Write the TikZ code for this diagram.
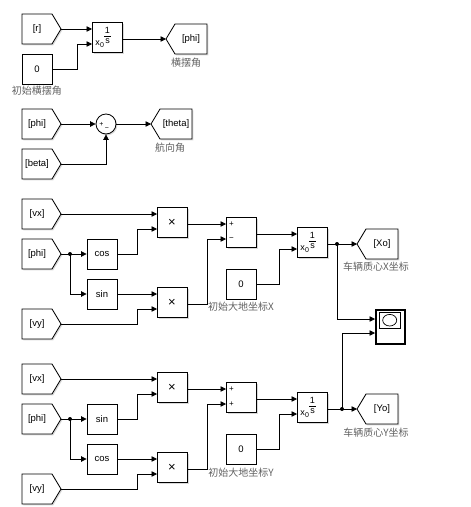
\documentclass[tikz,border=0pt]{standalone}
\usepackage{fontspec}
\setmainfont{Liberation Sans}
\newfontfamily\cjk{Noto Sans CJK SC}
\usetikzlibrary{arrows.meta,shadows,calc}
\begin{document}
\begin{tikzpicture}[x=1pt,y=-1pt,
  blk/.style={draw=black, line width=0.85pt, fill=white, drop shadow={shadow xshift=1.3pt, shadow yshift=-1.3pt, opacity=0.3}},
  sig/.style={line width=0.8pt, -{Triangle[length=5.5pt,width=5.5pt]}},
  btxt/.style={font=\fontsize{9.5}{10}\selectfont, inner sep=0},
  mtxt/.style={font=\fontsize{13}{13}\selectfont, inner sep=0},
  small/.style={font=\fontsize{9}{9}\selectfont, inner sep=0},
  sgn/.style={font=\fontsize{8}{8}\selectfont, inner sep=0},
  tiny/.style={font=\fontsize{7}{7}\selectfont, inner sep=0},
  lbl/.style={font=\cjk\fontsize{10}{10}\selectfont, text=black!62, inner sep=0},
  jdot/.style={circle, fill=black, inner sep=0, minimum size=4pt},
  rblk/.style={blk, minimum width=30pt, minimum height=30pt, inner sep=0, btxt},
  fromblk/.pic={\draw[blk] (-39,-15) -- (-9,-15) -- (0,0) -- (-9,15) -- (-39,15) -- cycle;
     \node[btxt] (-t) at (-24,0) {#1}; \coordinate (-out) at (0,0);},
  gotoblk/.pic={\draw[blk] (0,0) -- (9,-15) -- (41,-15) -- (41,15) -- (9,15) -- cycle;
     \node[btxt] (-t) at (25,0) {#1}; \coordinate (-in) at (0,0);},
  twoin/.pic={\node[rblk, anchor=north west] (-b) at (0,0) {};
     \node[mtxt] (-t) at (15,15.5) {#1};
     \coordinate (-in1) at (0,7); \coordinate (-in2) at (0,22); \coordinate (-out) at (30,17);},
  sumblk/.pic={\node[rblk, anchor=north west] (-b) at (0,0) {};
     \coordinate (-in1) at (0,7); \coordinate (-in2) at (0,22); \coordinate (-out) at (30,17);
     \node[sgn] (-s1) at (5.5,7) {+}; \node[sgn] (-s2) at (5.5,22) {#1};},
  integ/.pic={\node[rblk, anchor=north west] (-b) at (0,0) {};
     \coordinate (-in1) at (0,7); \coordinate (-in2) at (0,22); \coordinate (-out) at (30,17);
     \node[small] (-n) at (15.5,8.5) {1};
     \draw[line width=0.6pt] (12,14.5) -- (19,14.5);
     \node[small] (-d) at (15.5,19.5) {s};
     \node[small] (-x) at (5.5,21) {x};
     \node[tiny] (-z) at (10,23.5) {0};},
]
\useasboundingbox (0,0) rectangle (471,507);

% ---------- section 1 ----------
\pic (r) at (61,29) {fromblk={[r]}};
\node[rblk] (c1) at (37,69) {0};
\pic (i1) at (92,22) {integ};
\pic (gphi) at (166,39) {gotoblk={[phi]}};
\node[lbl] (l1) at (37,91) {初始横摆角};
\node[lbl] (l2) at (186,63) {横摆角};
\draw[sig] (r-out) -- (i1-in1);
\draw[sig] (c1.east) -- ++(25,0) |- (i1-in2);
\draw[sig] (i1-out) -- (gphi-in);

% ---------- section 2 ----------
\pic (phi2) at (61,124) {fromblk={[phi]}};
\pic (beta) at (61,164) {fromblk={[beta]}};
\node[blk, circle, minimum size=20pt, inner sep=0] (sum) at (106,124) {};
\node[tiny] (sp) at (101.5,124) {+};
\node[tiny] (sm) at (107,129) {−};
\pic (gth) at (151,124) {gotoblk={[theta]}};
\node[lbl] (l3) at (170,148) {航向角};
\draw[sig] (phi2-out) -- (sum.west);
\draw[sig] (beta-out) -| (sum.south);
\draw[sig] (sum.east) -- (gth-in);

% ---------- section X ----------
\pic (vxX) at (61,214) {fromblk={[vx]}};
\pic (phiX) at (61,254) {fromblk={[phi]}};
\pic (vyX) at (61,324) {fromblk={[vy]}};
\node[rblk] (cosX) at (102,254) {cos};
\node[rblk] (sinX) at (102,294) {sin};
\pic (mX1) at (157,207) {twoin={×}};
\pic (mX2) at (157,287) {twoin={×}};
\pic (sX) at (226,217) {sumblk={−}};
\node[rblk] (cX) at (241,284) {0};
\pic (iX) at (297,227) {integ};
\pic (gXo) at (357,244) {gotoblk={[Xo]}};
\node[lbl] (l4) at (241,307) {初始大地坐标X};
\node[lbl] (l5) at (376,267) {车辆质心X坐标};
\node[jdot] (dX) at (70,254) {};
\node[jdot] (jX) at (337,244) {};

\draw[sig] (vxX-out) -- (mX1-in1);
\draw[sig] (phiX-out) -- (cosX.west);
\draw[sig] (dX.center) |- (sinX.west);
\draw[sig] (cosX.east) -- ++(20,0) |- (mX1-in2);
\draw[sig] (sinX.east) -- (mX2-in1);
\draw[sig] (vyX-out) -- ++(76,0) |- (mX2-in2);
\draw[sig] (mX1-out) -- (sX-in1);
\draw[sig] (mX2-out) -- ++(20,0) |- (sX-in2);
\draw[sig] (sX-out) -- (iX-in1);
\draw[sig] (cX.east) -- ++(23,0) |- (iX-in2);
\draw[sig] (iX-out) -- (gXo-in);

% ---------- scope ----------
\node[draw, line width=1.8pt, fill=white, minimum width=29pt, minimum height=34pt, inner sep=0,
      anchor=north west, drop shadow={shadow xshift=1.3pt, shadow yshift=-1.3pt, opacity=0.3}] (scope) at (375,309) {};
\draw[line width=0.8pt] (379,312) rectangle (400.5,328.5);
\draw[line width=0.7pt] (389.7,320.2) ellipse [x radius=7, y radius=5.8];
\coordinate (sc1) at ($(scope.north west)+(0,10)$);
\coordinate (sc2) at ($(scope.north west)+(0,24)$);
\draw[sig] (jX.center) |- (sc1);

% ---------- section Y ----------
\pic (vxY) at (61,379) {fromblk={[vx]}};
\pic (phiY) at (61,419) {fromblk={[phi]}};
\pic (vyY) at (61,489) {fromblk={[vy]}};
\node[rblk] (sinY) at (102,419) {sin};
\node[rblk] (cosY) at (102,459) {cos};
\pic (mY1) at (157,372) {twoin={×}};
\pic (mY2) at (157,452) {twoin={×}};
\pic (sY) at (226,382) {sumblk={+}};
\node[rblk] (cY) at (241,449) {0};
\pic (iY) at (297,392) {integ};
\pic (gYo) at (357,409) {gotoblk={[Yo]}};
\node[lbl] (l6) at (241,473) {初始大地坐标Y};
\node[lbl] (l7) at (376,433) {车辆质心Y坐标};
\node[jdot] (dY) at (70,419) {};
\node[jdot] (jY) at (342,409) {};

\draw[sig] (vxY-out) -- (mY1-in1);
\draw[sig] (phiY-out) -- (sinY.west);
\draw[sig] (dY.center) |- (cosY.west);
\draw[sig] (sinY.east) -- ++(20,0) |- (mY1-in2);
\draw[sig] (cosY.east) -- (mY2-in1);
\draw[sig] (vyY-out) -- ++(76,0) |- (mY2-in2);
\draw[sig] (mY1-out) -- (sY-in1);
\draw[sig] (mY2-out) -- ++(20,0) |- (sY-in2);
\draw[sig] (sY-out) -- (iY-in1);
\draw[sig] (cY.east) -- ++(23,0) |- (iY-in2);
\draw[sig] (iY-out) -- (gYo-in);
\draw[sig] (jY.center) |- (sc2);
\end{tikzpicture}
\end{document}
